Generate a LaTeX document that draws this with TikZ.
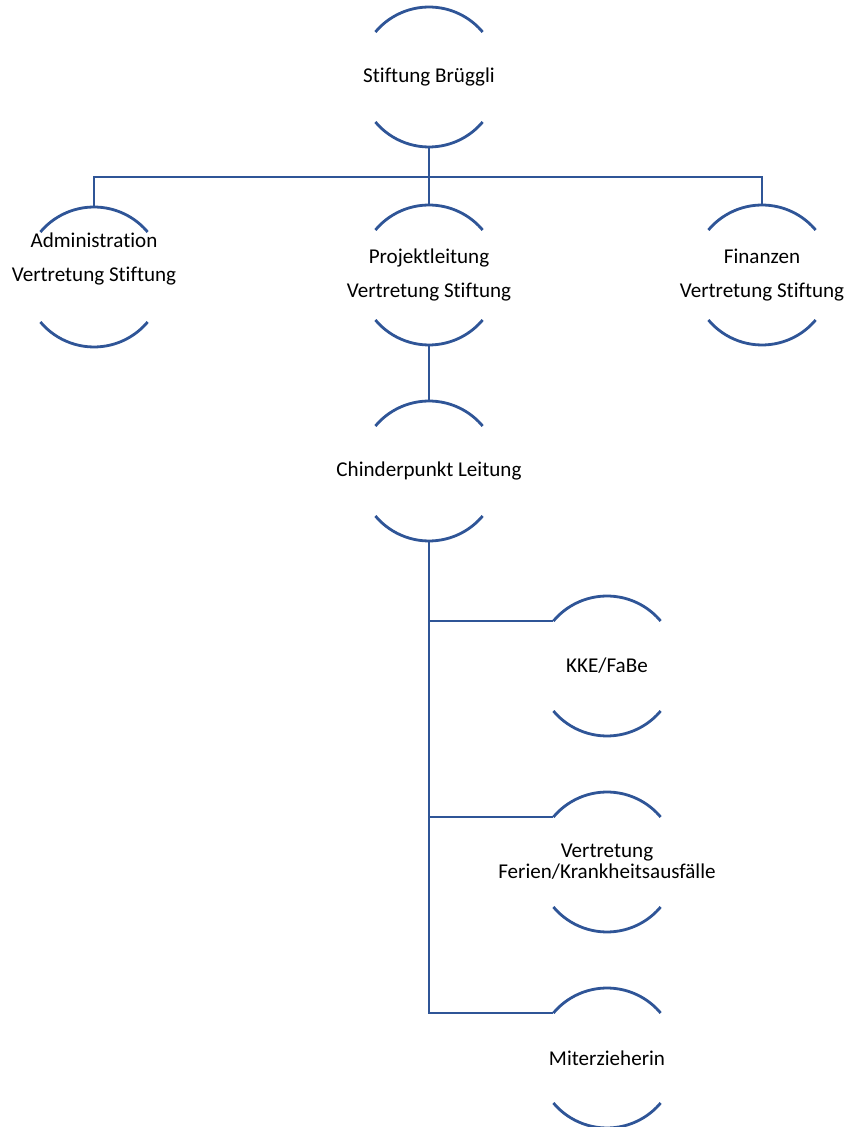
\documentclass[tikz,border=0pt]{standalone}
\usepackage{fontspec}
\setmainfont[Ligatures=NoCommon]{Carlito}
\usepackage{xcolor}
\usepackage{tikz}

\definecolor{orgblue}{RGB}{47,85,151}

\begin{document}
\begin{tikzpicture}[x=0.02cm,y=0.02cm,
	ring/.style={circle,minimum size=2.8cm,inner sep=0pt,outer sep=0pt},
	orgtext/.style={align=center,inner sep=0pt,font=\fontsize{12}{19.5}\selectfont},
	orgline/.style={draw=orgblue,line width=1.6pt}]
	\useasboundingbox (0,0) rectangle (851,1127);

	\node[ring] (brueggli) at (429,1050) {};
	\node[orgtext] (brueggli-txt) at (brueggli) {Stiftung Brüggli};

	\node[ring] (admin) at (94,850) {};
	\node[orgtext] (admin-txt) at (94,868) {Administration\\Vertretung Stiftung};
	\node[ring] (projekt) at (429,852) {};
	\node[orgtext] (projekt-txt) at (projekt) {Projektleitung\\Vertretung Stiftung};
	\node[ring] (finanzen) at (762,852) {};
	\node[orgtext] (finanzen-txt) at (finanzen) {Finanzen\\Vertretung Stiftung};

	\node[ring] (chinder) at (429,656) {};
	\node[orgtext] (chinder-txt) at (chinder) {Chinderpunkt Leitung};

	\node[ring] (kke) at (607,461) {};
	\node[orgtext] (kke-txt) at (kke) {KKE/FaBe};
	\node[ring] (vertretung) at (607,265) {};
	\node[orgtext,font=\fontsize{12}{12}\selectfont] (vertretung-txt) at (vertretung) {Vertretung\\Ferien/Krankheitsausfälle};
	\node[ring] (miterz) at (607,69) {};
	\node[orgtext] (miterz-txt) at (miterz) {Miterzieherin};

	\foreach \n in {brueggli,admin,projekt,finanzen,chinder,kke,vertretung,miterz} {
		\draw[orgline] (\n.140) arc (140:40:70);
		\draw[orgline] (\n.220) arc (220:320:70);
	}

	\draw[orgline] (brueggli.south) -- ++(0,-30) coordinate (split) -| (admin.north);
	\draw[orgline] (split) -| (finanzen.north);
	\draw[orgline] (brueggli.south) -- (projekt.north);
	\draw[orgline] (projekt.south) -- (chinder.north);

	\draw[orgline] (chinder.south) |- (kke.140);
	\draw[orgline] (chinder.south) |- (vertretung.140);
	\draw[orgline] (chinder.south) |- (miterz.140);
\end{tikzpicture}
\end{document}
